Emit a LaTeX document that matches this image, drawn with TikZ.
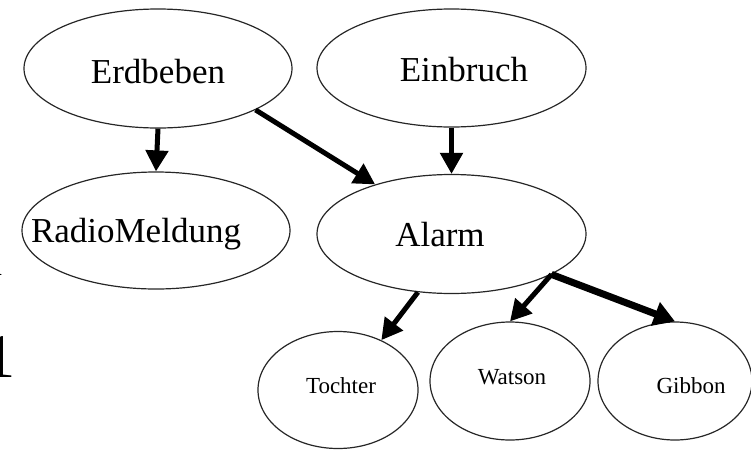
\documentclass[tikz,border=0pt]{standalone}
\usepackage{fontspec}
\setmainfont{Liberation Serif}
\usetikzlibrary{shapes.geometric,arrows.meta}
\begin{document}
\begin{tikzpicture}[x=1pt,y=-1pt,
  ell/.style={draw=black!85,line width=1.2pt,ellipse,inner sep=0pt},
  big/.style={font=\fontsize{35}{35}\selectfont,anchor=base,inner sep=0pt},
  small/.style={font=\fontsize{23}{23}\selectfont,anchor=base,inner sep=0pt},
  edge/.style={line width=5pt,-{Triangle[length=21pt,width=22pt]}},
  thickedge/.style={line width=7pt,-{Triangle[length=21pt,width=24pt]}}]
\useasboundingbox (0,0) rectangle (751,450);
% ellipses
\node[ell,minimum width=268pt,minimum height=119pt] (E) at (158,68.5) {};
\node[ell,minimum width=269pt,minimum height=118pt] (I) at (451.5,68) {};
\node[ell,minimum width=268pt,minimum height=117pt] (R) at (156,230.5) {};
\node[ell,minimum width=269pt,minimum height=119pt] (A) at (451.5,234) {};
\node[ell,minimum width=160pt,minimum height=117pt] (T) at (338,390) {};
\node[ell,minimum width=160pt,minimum height=118pt] (W) at (510,381) {};
\node[ell,minimum width=154pt,minimum height=118pt] (G) at (675,381) {};
% labels
\node[big] (tE) at (158,83) {Erdbeben};
\node[big] (tI) at (464,81) {Einbruch};
\node[big] (tR) at (136,242) {RadioMeldung};
\node[big] (tA) at (440,246) {Alarm};
\node[small] (tT) at (341,393) {Tochter};
\node[small] (tW) at (512,384) {Watson};
\node[small] (tG) at (691,393) {Gibbon};
% clipped fragments at left edge
\node[font=\fontsize{40}{40}\selectfont,anchor=base east,inner sep=0pt] (fn) at (3,275) {n};
\node[font=\fontsize{62}{62}\selectfont,anchor=base east,inner sep=0pt] (f1) at (16,377) {1};
% connectors
\draw[edge] (E.south) -- (R.north);
\draw[edge] (E.-23) -- (A.147);
\draw[edge] (I.south) -- (A.north);
\draw[edge] (A.-120) -- (T.49);
\draw[edge] (A.-22) -- (W.north);
\draw[thickedge] (A.-22) -- (G.north);
\end{tikzpicture}
\end{document}
